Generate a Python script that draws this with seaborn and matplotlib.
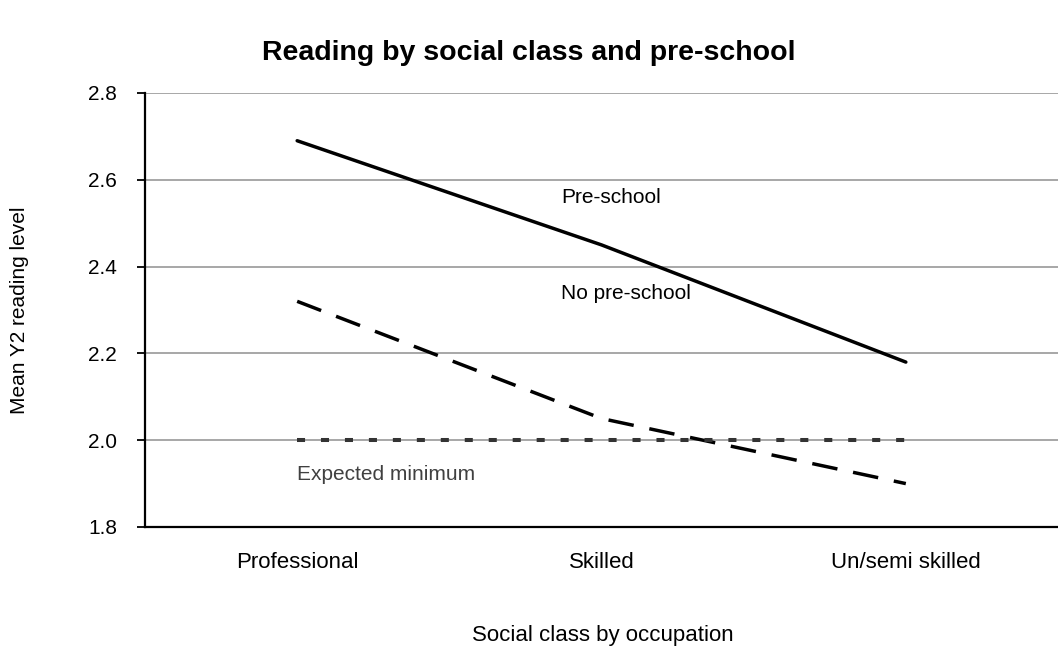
import matplotlib

matplotlib.use("Agg")
import matplotlib.pyplot as plt
import numpy as np
import pandas as pd
import seaborn as sns

# --- Data ---
CLASSES = ["Professional", "Skilled", "Un/semi skilled"]
PRE_SCHOOL = [2.69, 2.45, 2.18]
NO_PRE_SCHOOL = [2.32, 2.05, 1.90]
EXPECTED_MIN = [2.0, 2.0, 2.0]
SERIES_NAMES = ["Pre-school", "No pre-school", "Expected minimum"]
Y_TICKS = [1.8, 2.0, 2.2, 2.4, 2.6, 2.8]

df = pd.concat(
    [
        pd.DataFrame({"cls": CLASSES, "value": vals, "series": name})
        for name, vals in zip(SERIES_NAMES, [PRE_SCHOOL, NO_PRE_SCHOOL, EXPECTED_MIN])
    ],
    ignore_index=True,
)

sns.set_style("white")
plt.rcParams["font.family"] = ["Liberation Sans", "DejaVu Sans"]
plt.rcParams["text.color"] = "black"
plt.rcParams["xtick.color"] = "black"
plt.rcParams["ytick.color"] = "black"

fig = plt.figure(figsize=(10.58, 6.53), dpi=100)
ax = fig.add_axes([145 / 1058, 126 / 653, 1 - 145 / 1058, 434 / 653])

palette = {"Pre-school": "black", "No pre-school": "black", "Expected minimum": "#333333"}
dashes = {"Pre-school": "", "No pre-school": (7.4, 4.6), "Expected minimum": (2.3, 4.6)}
sns.lineplot(
    data=df,
    x="cls",
    y="value",
    hue="series",
    style="series",
    palette=palette,
    dashes=dashes,
    linewidth=2.5,
    sort=False,
    legend=False,
    ax=ax,
    zorder=3,
)
# the "expected minimum" dots are a little heavier than the other lines
dotted = ax.lines[2]
dotted.set_linewidth(2.9)
dotted.set_dashes((2.0, 3.95))

# axes styling
ax.set_xlim(-0.5, 2.5)
ax.set_ylim(1.8, 2.8)
ax.set_yticks(Y_TICKS)
ax.set_yticklabels([f"{t:.1f}" for t in Y_TICKS])
ax.set_xticks(range(len(CLASSES)))
ax.set_xticklabels(CLASSES)
ax.set_xticks(np.arange(-0.5, 3.0, 1.0), minor=True)
ax.tick_params(axis="x", which="major", length=0, pad=18, labelsize=16)
ax.tick_params(axis="x", which="minor", length=6, width=1.3, direction="out")
ax.tick_params(axis="y", length=6, width=1.3, pad=14, labelsize=15, left=True)
ax.set_xlabel("")
ax.set_ylabel("")
ax.grid(axis="y", color="#a0a0a0", linewidth=1.3)
ax.grid(axis="x", visible=False)
for side in ["top", "right"]:
    ax.spines[side].set_visible(False)
for side in ["left", "bottom"]:
    ax.spines[side].set_color("black")
    ax.spines[side].set_linewidth(1.6)

# line labels
ax.text(0.867, 2.56, "Pre-school", fontsize=15, va="center", ha="left", color="black")
ax.text(0.867, 2.339, "No pre-school", fontsize=15, va="center", ha="left", color="black")
ax.text(0.0, 1.922, "Expected minimum", fontsize=15, va="center", ha="left", color="#404040")

fig.text(0.5, 1 - 53 / 653, "Reading by social class and pre-school",
         fontsize=20.5, fontweight="bold", ha="center", va="center")
fig.text(603 / 1058, 1 - 635 / 653, "Social class by occupation",
         fontsize=16, ha="center", va="center")
fig.text(20 / 1058, 1 - 310 / 653, "Mean Y2 reading level",
         fontsize=15, ha="center", va="center", rotation=90)

fig.savefig("out.png", dpi=100)
